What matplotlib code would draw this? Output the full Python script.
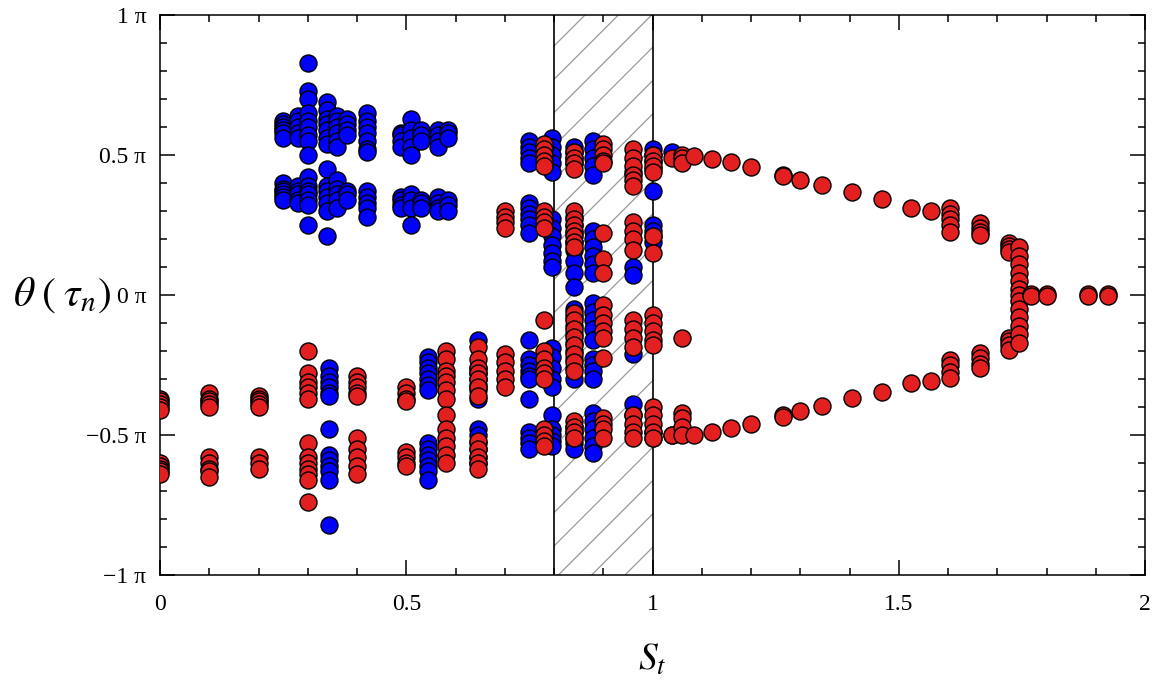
import matplotlib
matplotlib.use('Agg')
import matplotlib.pyplot as plt
from matplotlib.ticker import MultipleLocator, FuncFormatter

# St positions of each column of points, and theta / pi values in that column
blue_st = [0.25, 0.28, 0.30, 0.34, 0.36, 0.38, 0.42, 0.49, 0.51, 0.53, 0.565, 0.585,
           0.343, 0.545, 0.645, 0.75, 0.795, 0.84, 0.88, 0.96, 1.0, 1.04]
blue_theta = [
    [0.62, 0.61, 0.60, 0.59, 0.58, 0.56, 0.40, 0.38, 0.37, 0.36, 0.35, 0.34],
    [0.64, 0.62, 0.60, 0.58, 0.56, 0.39, 0.37, 0.36, 0.34, 0.33],
    [0.83, 0.73, 0.70, 0.65, 0.62, 0.60, 0.57, 0.55, 0.50, 0.42, 0.39, 0.37, 0.36, 0.34, 0.32, 0.25],
    [0.69, 0.66, 0.63, 0.61, 0.59, 0.56, 0.54, 0.45, 0.39, 0.37, 0.35, 0.33, 0.30, 0.21],
    [0.64, 0.62, 0.60, 0.58, 0.55, 0.53, 0.41, 0.38, 0.36, 0.34, 0.31],
    [0.63, 0.61, 0.59, 0.57, 0.37, 0.36, 0.34],
    [0.65, 0.62, 0.60, 0.58, 0.55, 0.52, 0.51, 0.37, 0.35, 0.33, 0.31, 0.28],
    [0.58, 0.57, 0.55, 0.53, 0.35, 0.34, 0.32, 0.31],
    [0.63, 0.59, 0.56, 0.53, 0.50, 0.36, 0.34, 0.31, 0.25],
    [0.59, 0.57, 0.55, 0.34, 0.33, 0.31],
    [0.59, 0.57, 0.55, 0.53, 0.35, 0.33, 0.31, 0.30],
    [0.59, 0.58, 0.56, 0.34, 0.32, 0.30],
    [-0.26, -0.29, -0.31, -0.33, -0.35, -0.36, -0.48, -0.57, -0.59, -0.61, -0.63, -0.66, -0.82],
    [-0.22, -0.24, -0.26, -0.28, -0.30, -0.32, -0.34, -0.53, -0.55, -0.57, -0.59, -0.61, -0.63, -0.66],
    [-0.16, -0.26, -0.28, -0.30, -0.32, -0.34, -0.37, -0.48, -0.50, -0.53, -0.55, -0.58, -0.60],
    [0.55, 0.53, 0.51, 0.49, 0.47, 0.33, 0.31, 0.29, 0.27, 0.25, 0.22,
     -0.16, -0.23, -0.25, -0.27, -0.29, -0.30, -0.37, -0.49, -0.51, -0.53, -0.55],
    [0.56, 0.53, 0.50, 0.47, 0.44, 0.27, 0.24, 0.21, 0.18, 0.15, 0.12, 0.10,
     -0.19, -0.22, -0.26, -0.30, -0.33, -0.43, -0.48, -0.50, -0.52, -0.54],
    [0.53, 0.51, 0.49, 0.47, 0.28, 0.25, 0.22, 0.19, 0.16, 0.12, 0.08, 0.03,
     -0.05, -0.08, -0.11, -0.14, -0.17, -0.20, -0.23, -0.26, -0.30, -0.47, -0.49, -0.51, -0.53, -0.55],
    [0.55, 0.52, 0.49, 0.46, 0.43, 0.23, 0.20, 0.17, 0.14, 0.11, 0.08,
     -0.03, -0.06, -0.09, -0.12, -0.16, -0.23, -0.25, -0.27, -0.30, -0.42, -0.45, -0.48, -0.51, -0.54, -0.565],
    [0.44, 0.10, 0.07, -0.21, -0.39, -0.43],
    [0.52, 0.50, 0.48, 0.45, 0.37, 0.25, 0.23, 0.21, 0.19, -0.49, -0.51],
    [0.51, -0.50],
]

red_st = [0.0, 0.1, 0.2, 0.3, 0.4, 0.5, 0.58, 0.645, 0.70, 0.78, 0.84, 0.90, 0.96, 1.0,
          1.04, 1.06, 1.085, 1.12, 1.16, 1.20, 1.265, 1.30, 1.345, 1.405, 1.466, 1.525,
          1.565, 1.605, 1.665, 1.724, 1.744, 1.768, 1.80, 1.885, 1.925]
red_theta = [
    [-0.37, -0.38, -0.39, -0.40, -0.41, -0.60, -0.61, -0.62, -0.63, -0.64],
    [-0.35, -0.37, -0.38, -0.39, -0.40, -0.58, -0.60, -0.62, -0.63, -0.65],
    [-0.36, -0.37, -0.38, -0.39, -0.40, -0.58, -0.60, -0.62],
    [-0.20, -0.28, -0.31, -0.33, -0.35, -0.37, -0.53, -0.58, -0.60, -0.62, -0.64, -0.66, -0.74],
    [-0.29, -0.31, -0.33, -0.35, -0.36, -0.51, -0.55, -0.58, -0.61, -0.64],
    [-0.33, -0.35, -0.37, -0.38, -0.56, -0.58, -0.60, -0.61],
    [-0.20, -0.23, -0.27, -0.29, -0.31, -0.34, -0.37, -0.43, -0.48, -0.51, -0.54, -0.57, -0.60],
    [-0.185, -0.23, -0.26, -0.28, -0.30, -0.33, -0.36, -0.52, -0.55, -0.58, -0.60, -0.62],
    [0.30, 0.28, 0.26, 0.24, -0.21, -0.24, -0.27, -0.30, -0.33],
    [0.54, 0.52, 0.50, 0.48, 0.46, 0.30, 0.28, 0.26, 0.24,
     -0.09, -0.20, -0.23, -0.26, -0.28, -0.30, -0.48, -0.50, -0.52, -0.54],
    [0.51, 0.49, 0.47, 0.45, 0.30, 0.27, 0.25, 0.23, 0.21, 0.19, 0.17,
     -0.065, -0.09, -0.12, -0.15, -0.18, -0.21, -0.24, -0.27, -0.45, -0.47, -0.49, -0.51],
    [0.54, 0.52, 0.50, 0.48, 0.47, 0.22, 0.13, 0.08,
     -0.035, -0.07, -0.10, -0.13, -0.155, -0.225, -0.44, -0.46, -0.48, -0.51],
    [0.52, 0.49, 0.46, 0.43, 0.41, 0.39, 0.26, 0.23, 0.20, 0.16,
     -0.09, -0.12, -0.155, -0.185, -0.43, -0.46, -0.49, -0.51],
    [0.50, 0.48, 0.46, 0.44, 0.21, 0.15, -0.07, -0.10, -0.13, -0.16, -0.18,
     -0.40, -0.43, -0.46, -0.49, -0.51],
    [0.49, -0.50],
    [0.50, 0.49, 0.47, -0.155, -0.42, -0.44, -0.47, -0.50],
    [0.495, -0.50],
    [0.486, -0.49],
    [0.475, -0.475],
    [0.457, -0.46],
    [0.43, 0.425, -0.43, -0.435],
    [0.41, -0.415],
    [0.393, -0.396],
    [0.367, -0.368],
    [0.342, -0.346],
    [0.31, -0.315],
    [0.30, -0.307],
    [0.31, 0.29, 0.27, 0.25, 0.225, -0.232, -0.25, -0.275, -0.296],
    [0.257, 0.24, 0.225, 0.214, -0.207, -0.225, -0.245, -0.26],
    [0.186, 0.175, 0.165, 0.154, -0.154, -0.165, -0.18, -0.196],
    [0.17, 0.14, 0.11, 0.08, 0.05, 0.02, 0.0, -0.02, -0.05, -0.08, -0.11, -0.14, -0.17],
    [0.005, -0.005],
    [0.005, -0.005],
    [0.005, -0.005],
    [0.005, -0.005],
]

# hatched window
band_lo, band_hi = 0.8, 1.0

plt.rcParams['font.family'] = ['Liberation Serif', 'DejaVu Serif']
plt.rcParams['mathtext.fontset'] = 'stix'
plt.rcParams['hatch.linewidth'] = 0.9


def flatten(st, theta):
    xs, ys = [], []
    for x, col in zip(st, theta):
        xs += [x] * len(col)
        ys += col
    return xs, ys


bx, by = flatten(blue_st, blue_theta)
rx, ry = flatten(red_st, red_theta)

fig = plt.figure(figsize=(11.64, 6.85), dpi=100)
ax = fig.add_axes([0.1375, 0.1606, 0.8462, 0.8175])

ax.axvspan(band_lo, band_hi, facecolor='none', edgecolor='#999999', hatch='/', lw=0, zorder=1)
ax.axvline(band_lo, color='black', lw=1.2, zorder=1)
ax.axvline(band_hi, color='black', lw=1.2, zorder=1)

ax.scatter(bx, by, s=150, c='#0000ff', edgecolors='black', linewidths=1.0, zorder=3)
ax.scatter(rx, ry, s=150, c='#e2201f', edgecolors='black', linewidths=1.0, zorder=4)

ax.set_xlim(0, 2)
ax.set_ylim(-1, 1)
ax.xaxis.set_major_locator(MultipleLocator(0.5))
ax.xaxis.set_minor_locator(MultipleLocator(0.1))
ax.yaxis.set_major_locator(MultipleLocator(0.5))
ax.yaxis.set_minor_locator(MultipleLocator(0.1))
ax.xaxis.set_major_formatter(FuncFormatter(lambda v, p: f'{v:g}'))
ax.yaxis.set_major_formatter(FuncFormatter(lambda v, p: f'{v:g} π'.replace('-', '\u2212')))

ax.tick_params(which='both', direction='in', top=True, right=True, width=1.1)
ax.tick_params(which='major', length=11)
ax.tick_params(which='minor', length=5)
ax.tick_params(axis='x', labelsize=17, pad=14)
ax.tick_params(axis='y', labelsize=17, pad=10)
for sp in ax.spines.values():
    sp.set_linewidth(1.1)

ax.set_xlabel(r'$S_t$', fontsize=27, labelpad=20)
ax.set_ylabel(r'$\theta\;(\;\tau_n)$', fontsize=30, rotation=0, ha='right', va='center')
ax.yaxis.set_label_coords(-0.05, 0.5)

fig.savefig('out.png', dpi=100)
